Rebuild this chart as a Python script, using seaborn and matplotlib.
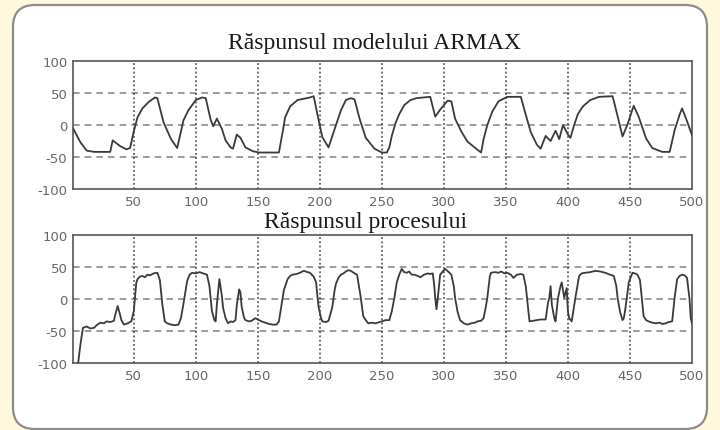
import matplotlib
matplotlib.use("Agg")
import matplotlib.pyplot as plt
from matplotlib.patches import FancyBboxPatch
from matplotlib.transforms import IdentityTransform
import seaborn as sns
import pandas as pd

# ---- data ----
model_x = [1, 7, 12, 18, 31, 33, 35, 39, 44, 47, 50, 53, 57, 62, 67, 69, 74, 80, 85,
           90, 94, 100, 105, 108, 112, 114, 117, 121, 124, 128, 130, 133, 136, 140, 146,
           151, 167, 170, 172, 176, 182, 192, 195, 198, 202, 207, 213, 217, 221, 225, 228,
           232, 237, 244, 250, 254, 256, 258, 261, 264, 268, 273, 278, 289, 293, 297, 303,
           306, 309, 314, 319, 326, 330, 332, 335, 339, 344, 351, 362, 366, 370, 375, 378,
           382, 386, 390, 393, 396, 400, 402, 405, 408, 412, 418, 425, 436, 440, 444, 448,
           453, 457, 463, 468, 476, 482, 486, 490, 492, 496, 500]
model_y = [-5, -27, -40, -42, -42, -24, -27, -33, -38, -36, -10, 12, 26, 36, 43, 42, 4, -22, -36,
           7, 23, 39, 43, 42, 8, -2, 10, -6, -24, -35, -37, -15, -20, -35, -41,
           -43, -43, -11, 12, 29, 39, 43, 45, 17, -19, -35, 0, 23, 39, 42, 40,
           10, -20, -37, -43, -43, -35, -17, 3, 17, 31, 39, 42, 44, 13, 24, 38,
           37, 10, -10, -26, -37, -43, -22, 0, 21, 37, 44, 44, 16, -11, -31, -37,
           -17, -25, -9, -22, 0, -15, -20, 0, 17, 29, 39, 44, 45, 14, -18, 1,
           30, 13, -21, -36, -42, -42, -8, 16, 26, 6, -16]

proc_x = [5, 7, 9, 12, 15, 18, 20, 23, 26, 28, 31, 34, 35, 37, 39, 40, 42, 45, 48, 50,
          52, 53, 55, 57, 59, 61, 63, 66, 69, 71, 73, 75, 77, 80, 83, 86, 88, 90, 93, 95,
          97, 100, 103, 106, 109, 111, 113, 115, 116, 117, 119, 121, 122, 124, 126, 128,
          130, 132, 133, 135, 136, 137, 139, 140, 143, 145, 148, 151, 153, 156, 159, 162,
          165, 167, 168, 171, 174, 176, 178, 181, 184, 187, 190, 192, 195, 197, 198, 199,
          201, 202, 205, 207, 210, 212, 213, 215, 217, 219, 221, 223, 225, 228, 230, 233,
          235, 237, 239, 242, 245, 248, 250, 253, 256, 258, 260, 262, 264, 266, 268, 270,
          272, 274, 276, 279, 281, 284, 287, 289, 291, 292, 293, 294, 295, 297, 299, 301,
          304, 306, 308, 309, 311, 313, 316, 319, 322, 325, 327, 330, 332, 334, 335, 337,
          338, 341, 344, 346, 349, 351, 354, 356, 359, 362, 364, 366, 367, 369, 372, 375,
          378, 382, 384, 385, 386, 387, 389, 390, 392, 394, 395, 397, 399, 400, 401, 403,
          405, 406, 409, 411, 414, 418, 422, 426, 430, 434, 437, 439, 440, 442, 444, 445,
          446, 448, 449, 452, 454, 456, 458, 459, 461, 463, 465, 468, 471, 474, 476, 479,
          481, 484, 486, 488, 490, 492, 494, 496, 498, 499, 500]
proc_y = [-102, -71, -45, -43, -46, -45, -41, -37, -38, -35, -36, -34, -25, -11, -25, -33, -40, -38, -35, -19,
          25, 31, 35, 36, 34, 38, 37, 40, 41, 30, -8, -35, -38, -40, -41, -40, -30, -8, 28, 38,
          41, 40, 42, 40, 38, 20, -19, -33, -35, -8, 31, 5, -14, -30, -38, -35,
          -36, -33, -10, 15, 10, -13, -30, -33, -35, -34, -30, -33, -35, -37, -39, -40,
          -40, -35, -23, 14, 31, 36, 38, 39, 41, 44, 42, 41, 35, 26, 5, -13,
          -30, -35, -36, -34, -13, 15, 24, 33, 38, 40, 43, 45, 44, 40, 38, 2,
          -27, -33, -38, -37, -38, -36, -35, -33, -33, -19, 1, 26, 38, 47, 42, 41,
          43, 38, 38, 36, 34, 38, 40, 39, 40, 25, 2, -16, 0, 38, 43, 47,
          42, 38, 20, 2, -20, -33, -38, -40, -38, -37, -35, -34, -30, -10, 2, 35,
          41, 42, 41, 43, 40, 41, 38, 33, 38, 39, 38, 20, 2, -35, -34, -33,
          -32, -32, -5, 2, 20, -9, -30, -35, 2, 20, 26, 2, 17, -20, -30, -35,
          -10, 2, 36, 40, 41, 42, 44, 43, 41, 38, 36, 20, 2, -20, -33, -30,
          -19, 10, 26, 41, 40, 38, 30, 12, -27, -33, -35, -37, -38, -37, -39, -38,
          -36, -35, 2, 31, 36, 38, 37, 33, 0, -30, -38]

titles = ["Răspunsul modelului ARMAX", "Răspunsul procesului"]
x_ticks = [50, 100, 150, 200, 250, 300, 350, 400, 450, 500]
y_ticks = [-100, -50, 0, 50, 100]

# ---- figure ----
sns.set_style("white")
plt.rcParams["axes.unicode_minus"] = False
W, H = 720, 431
fig = plt.figure(figsize=(W / 100, H / 100), dpi=100)
fig.patch.set_facecolor("#FFF8DC")

box = FancyBboxPatch((13, 1), 694, 424,
                     boxstyle="round,pad=0,rounding_size=22",
                     transform=IdentityTransform(), facecolor="white",
                     edgecolor="#8c8c8c", linewidth=1.6, zorder=-10)
fig.patches.append(box)

def px_axes(left, top, right, bottom):
    return [left / W, 1 - bottom / H, (right - left) / W, (bottom - top) / H]

ax1 = fig.add_axes(px_axes(73, 62, 692, 190))
ax2 = fig.add_axes(px_axes(73, 236, 692, 364))

df_model = pd.DataFrame({"x": model_x, "y": model_y})
df_proc = pd.DataFrame({"x": proc_x, "y": proc_y})

for ax, df in ((ax1, df_model), (ax2, df_proc)):
    ax.set_zorder(1)
    ax.set_facecolor("white")
    sns.lineplot(data=df, x="x", y="y", ax=ax, color="#3a3a3a", linewidth=1.3,
                 estimator=None, sort=False, zorder=3)
    ax.set_xlim(1, 500)
    ax.set_ylim(-100, 100)
    ax.set_xticks(x_ticks)
    ax.set_yticks(y_ticks)
    ax.set_xlabel("")
    ax.set_ylabel("")
    for yv in [-50, 0, 50]:
        ax.axhline(yv, color="#8a8a8a", linestyle=(0, (4, 3)), linewidth=1.2, zorder=1)
    for xv in x_ticks[:-1]:
        ax.axvline(xv, color="#444444", linestyle=(0, (1.2, 1.6)), linewidth=1.1, zorder=1)
    for s in ax.spines.values():
        s.set_color("#555555")
        s.set_linewidth(1.2)
    ax.tick_params(axis="both", length=0, labelsize=9.5, labelcolor="#666666", pad=4)

fig.text(374 / W, 1 - 43 / H, titles[0], ha="center", va="center",
         family="Liberation Serif", fontsize=17, color="#1a1a1a", zorder=2)
fig.text(366 / W, 1 - 223 / H, titles[1], ha="center", va="center",
         family="Liberation Serif", fontsize=17, color="#1a1a1a", zorder=2)

fig.savefig("out.png", dpi=100, facecolor=fig.get_facecolor())
